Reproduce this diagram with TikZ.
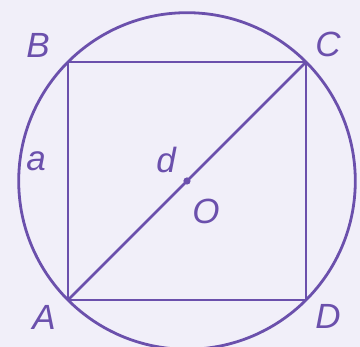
\documentclass[tikz,border=0pt]{standalone}
\usepackage{fontspec}
\setmainfont{Liberation Sans}
\definecolor{bg}{HTML}{F1EFF9}
\definecolor{pu}{HTML}{6B50AC}
\begin{document}
\begin{tikzpicture}[x=1pt,y=1pt,
  lbl/.style={text=pu,font=\fontsize{35}{35}\selectfont\itshape,inner sep=0pt},
  ln/.style={draw=pu,line width=2.8pt}]
\fill[bg] (0,0) rectangle (360,347);
\useasboundingbox (0,0) rectangle (360,347);
\coordinate (A) at (68,47);
\coordinate (B) at (68,285);
\coordinate (C) at (306,285);
\coordinate (D) at (306,47);
\coordinate (O) at (187,166);
\begin{scope}
\clip (0,0) rectangle (360,347);
\draw[ln] (O) circle (168.3);
\end{scope}
\draw[ln,line join=miter] (A) -- (B) -- (C) -- (D) -- cycle;
\draw[ln] (A) -- (C);
\fill[pu] (O) circle (3.6);
\node[lbl] (lB) at (38,302) {B};
\node[lbl] (lC) at (328,303) {C};
\node[lbl] (la) at (36,186) {a};
\node[lbl] (ld) at (166,187) {d};
\node[lbl] (lO) at (206,136) {O};
\node[lbl] (lA) at (44,30) {A};
\node[lbl] (lD) at (328,31) {D};
\end{tikzpicture}
\end{document}
